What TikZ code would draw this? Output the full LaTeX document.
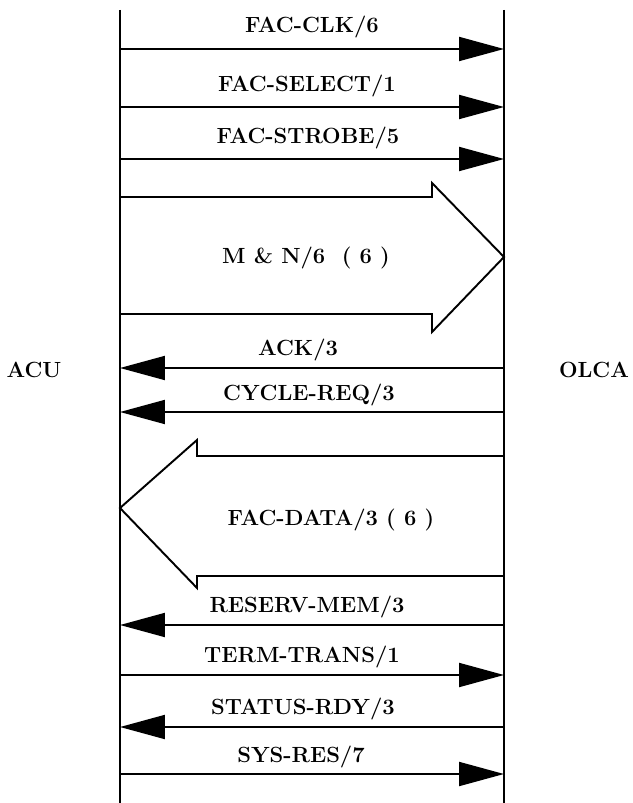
\documentclass[tikz,border=0pt]{standalone}
\usepackage{tikz}
\usetikzlibrary{arrows.meta}

\begin{document}
\begin{tikzpicture}[x=0.02cm, y=-0.02cm,
			 senal/.style={line width=1.1pt, -{Triangle[length=0.9cm, width=0.48cm]}},
			 linea/.style={line width=1.2pt},
			 flecha/.style={line width=1.1pt, line join=miter},
			 etiqueta/.style={font=\fontsize{12.5}{14}\selectfont\bfseries, inner sep=1pt},
			 extremo/.style={font=\fontsize{12.5}{14}\selectfont\bfseries}
  		]
	\useasboundingbox (0,0) rectangle (632,803);

	%Las dos unidades
		\node[extremo] (acu) at (34,370) {ACU};
		\node[extremo] (olca) at (594,370) {OLCA};
	%Lineas verticales
		\coordinate (iA) at (120,10);
		\coordinate (fA) at (120,803);
		\coordinate (iO) at (504,10);
		\coordinate (fO) at (504,803);
		\draw[linea] (iA) -- (fA);
		\draw[linea] (iO) -- (fO);

	%Puntos de cada senal
		\coordinate (a1) at (120,49);  \coordinate (o1) at (504,49);
		\coordinate (a2) at (120,107); \coordinate (o2) at (504,107);
		\coordinate (a3) at (120,159); \coordinate (o3) at (504,159);
		\coordinate (a4) at (120,368); \coordinate (o4) at (504,368);
		\coordinate (a5) at (120,412); \coordinate (o5) at (504,412);
		\coordinate (a6) at (120,625); \coordinate (o6) at (504,625);
		\coordinate (a7) at (120,675); \coordinate (o7) at (504,675);
		\coordinate (a8) at (120,727); \coordinate (o8) at (504,727);
		\coordinate (a9) at (120,774); \coordinate (o9) at (504,774);

	%Senales de ACU a OLCA
		\draw[senal] (a1) -- (o1);
		\draw[senal] (a2) -- (o2);
		\draw[senal] (a3) -- (o3);
		\draw[senal] (a7) -- (o7);
		\draw[senal] (a9) -- (o9);
	%Senales de OLCA a ACU
		\draw[senal] (o4) -- (a4);
		\draw[senal] (o5) -- (a5);
		\draw[senal] (o6) -- (a6);
		\draw[senal] (o8) -- (a8);

	%Flechas grandes
		\draw[flecha] (120,197) -- (432,197) -- (432,183) -- (504,257) -- (432,332) -- (432,314) -- (120,314);
		\draw[flecha] (504,456) -- (197,456) -- (197,440) -- (120,508) -- (197,588) -- (197,576) -- (504,576);

	%Etiquetas
		\node[etiqueta] (t1) at (312,27) {FAC-CLK/6};
		\node[etiqueta] (t2) at (307,86) {FAC-SELECT/1};
		\node[etiqueta] (t3) at (308,138) {FAC-STROBE/5};
		\node[etiqueta] (t4) at (306,258) {M \& N/6 \ ( 6 )};
		\node[etiqueta] (t5) at (298,350) {ACK/3};
		\node[etiqueta] (t6) at (309,395) {CYCLE-REQ/3};
		\node[etiqueta] (t7) at (331,520) {FAC-DATA/3 ( 6 )};
		\node[etiqueta] (t8) at (307,607) {RESERV-MEM/3};
		\node[etiqueta] (t9) at (302,657) {TERM-TRANS/1};
		\node[etiqueta] (t10) at (303,709) {STATUS-RDY/3};
		\node[etiqueta] (t11) at (301,757) {SYS-RES/7};
\end{tikzpicture}
\end{document}
